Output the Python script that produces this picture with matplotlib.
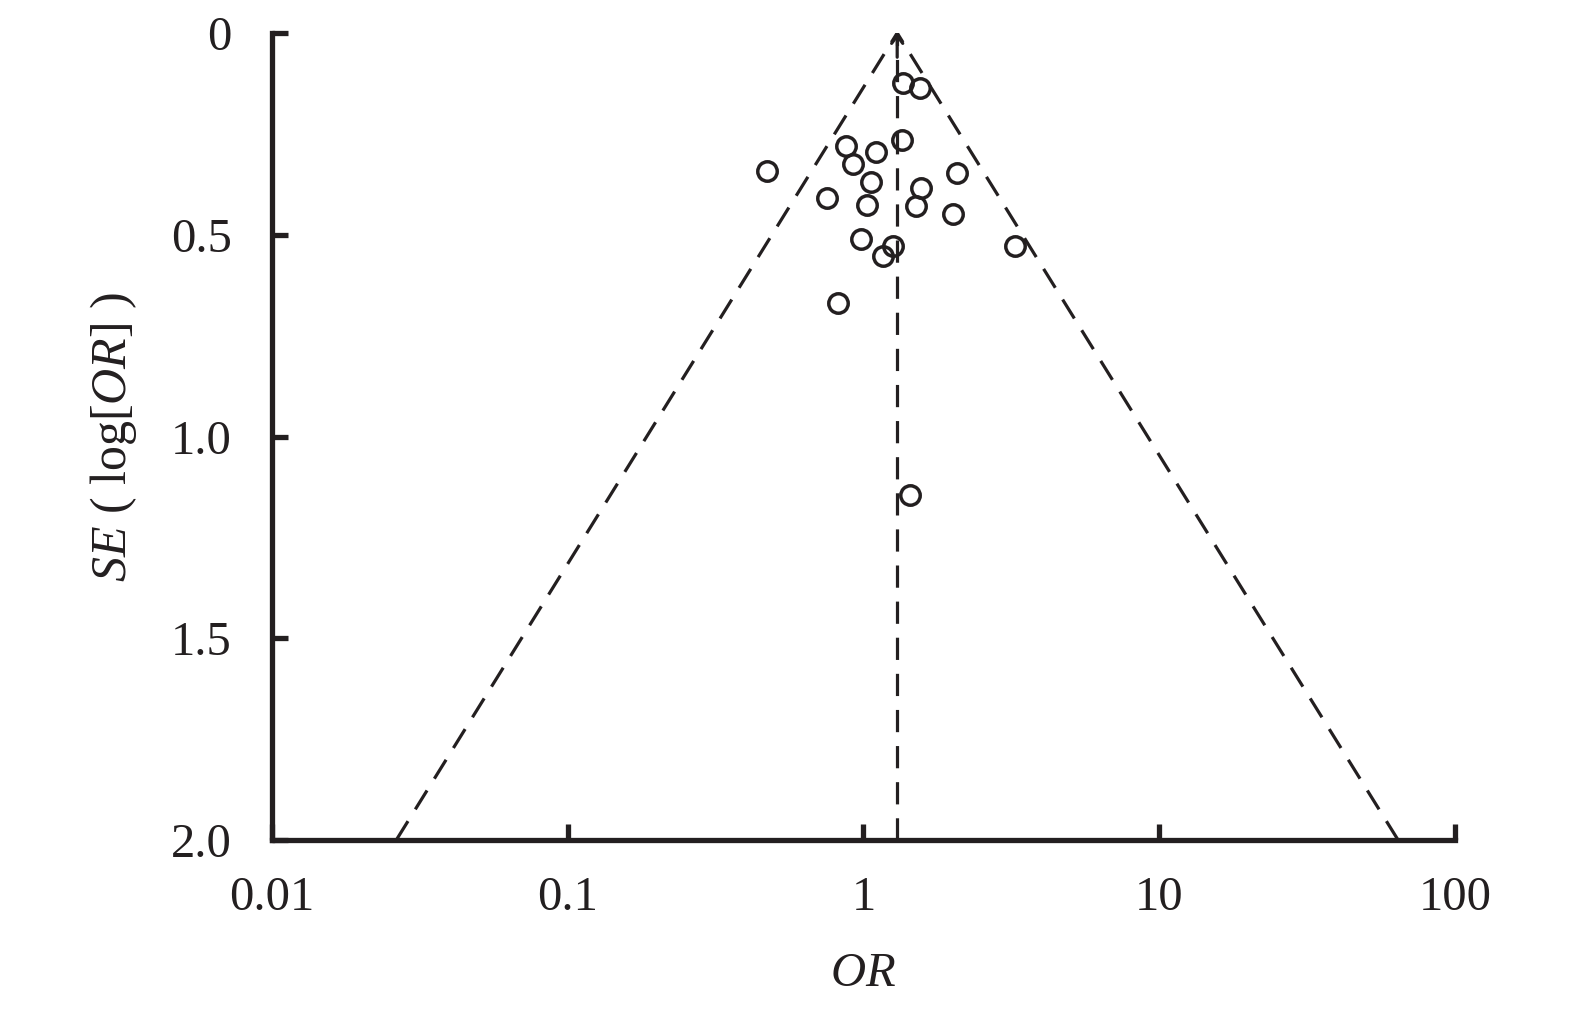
import matplotlib
matplotlib.use("Agg")
import matplotlib.pyplot as plt
import numpy as np

# study estimates
or_values = [1.36, 1.55, 1.35, 0.87, 1.10, 0.92, 0.47, 2.07, 1.06, 1.57,
             0.75, 1.03, 1.51, 2.00, 0.98, 1.26, 1.16, 3.26, 0.82, 1.44]
se_values = [0.125, 0.137, 0.265, 0.279, 0.296, 0.325, 0.342, 0.346, 0.368, 0.385,
             0.410, 0.426, 0.429, 0.449, 0.511, 0.528, 0.553, 0.528, 0.670, 1.145]
pooled_or = 1.30
se_max = 2.0
x_ticks = [0.01, 0.1, 1, 10, 100]
x_tick_labels = ["0.01", "0.1", "1", "10", "100"]
y_ticks = [0, 0.5, 1.0, 1.5, 2.0]
y_tick_labels = ["0", "0.5", "1.0", "1.5", "2.0"]

ink = "#231f20"

plt.rcParams['font.family'] = ['Liberation Serif', 'DejaVu Serif']
plt.rcParams['mathtext.fontset'] = 'custom'
plt.rcParams['mathtext.rm'] = 'Liberation Serif'
plt.rcParams['mathtext.it'] = 'Liberation Serif:italic'
plt.rcParams['lines.scale_dashes'] = False

fig = plt.figure(figsize=(15.75, 10.16), dpi=100)
ax = fig.add_axes([0.1727, 0.1732, 0.9238 - 0.1727, 0.9675 - 0.1732])

dash = (0, (16, 10))

# funnel (pseudo 95% CI) drawn from the bottom up to the apex
se_line = np.array([se_max, 0.0])
for sign in (-1, 1):
    ax.plot(pooled_or * np.exp(sign * 1.95 * se_line), se_line,
            color=ink, lw=2.3, linestyle=dash)

ax.plot([pooled_or, pooled_or], [se_max, 0.0], color=ink, lw=2.3, linestyle=dash)
ax.annotate("", xy=(pooled_or, 0.0), xytext=(pooled_or, 0.06),
            arrowprops=dict(arrowstyle="->,head_length=0.55,head_width=0.4",
                            lw=2.3, color=ink, shrinkA=0, shrinkB=0),
            annotation_clip=False)

ax.plot(or_values, se_values, linestyle="none", marker="o", ms=14,
        mfc="none", mec=ink, mew=2.5, clip_on=False)

ax.set_xscale("log")
ax.set_xlim(0.01, 100)
ax.set_ylim(se_max, 0)
ax.set_xticks(x_ticks)
ax.set_xticklabels(x_tick_labels)
ax.set_yticks(y_ticks)
ax.set_yticklabels(y_tick_labels)
ax.minorticks_off()

for side in ("top", "right"):
    ax.spines[side].set_visible(False)
for side in ("left", "bottom"):
    ax.spines[side].set_linewidth(3.8)
    ax.spines[side].set_color(ink)

ax.tick_params(axis="both", direction="in", length=11.5, width=3.8,
               color=ink, labelcolor=ink, labelsize=35)
ax.tick_params(axis="x", pad=26)
ax.tick_params(axis="y", pad=29)

ax.set_xlabel(r"$\mathit{OR}$", fontsize=35, color=ink)
ax.xaxis.set_label_coords(0.5, -0.166)
ax.xaxis.label.set_verticalalignment("center")
ax.set_ylabel(r"$\mathit{SE}$ ( log[$\mathit{OR}$] )", fontsize=36, color=ink)
ax.yaxis.set_label_coords(-0.1336, 0.5)
ax.yaxis.label.set_verticalalignment("center")

fig.savefig("out.png", dpi=100)
